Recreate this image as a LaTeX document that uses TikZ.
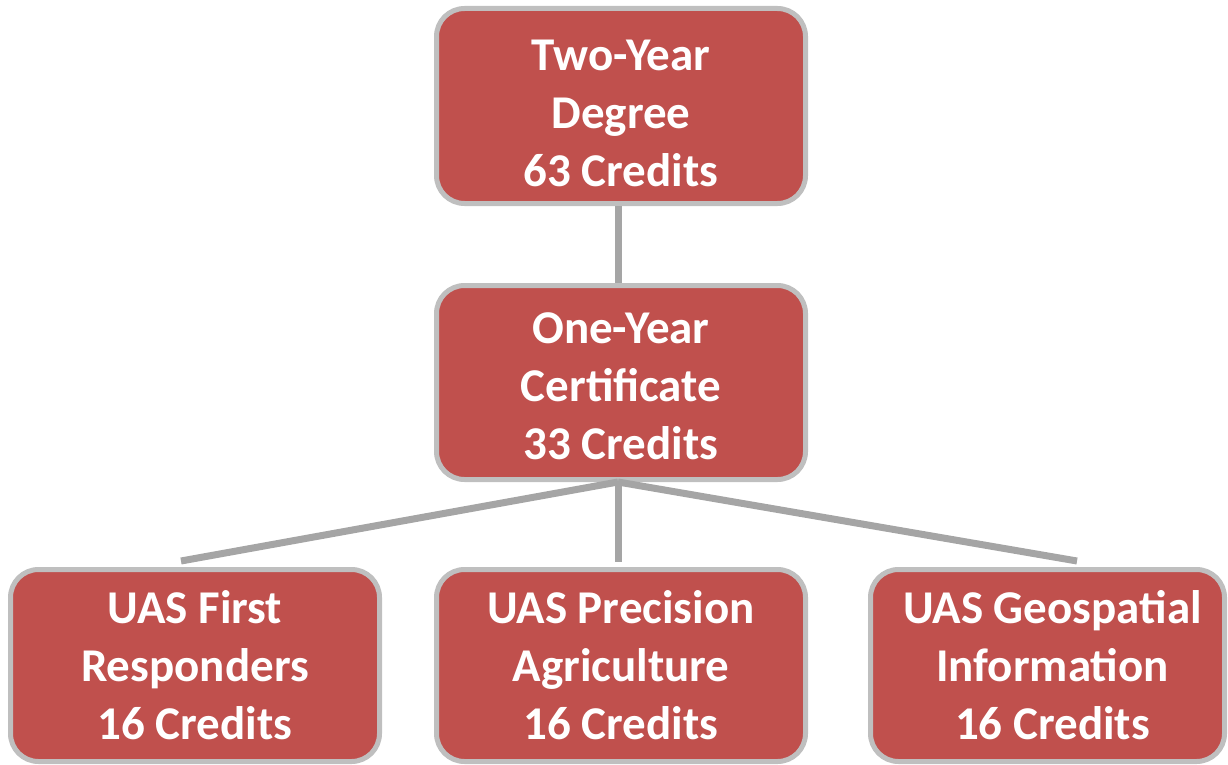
\documentclass[tikz,border=0pt]{standalone}
\usepackage{fontspec}
\setmainfont{Carlito}
\definecolor{boxfill}{HTML}{C0504D}
\definecolor{boxline}{HTML}{BFBFBF}
\definecolor{connline}{HTML}{A5A5A5}
\tikzset{
  credbox/.style={draw=boxline, line width=5pt, fill=boxfill, rounded corners=28pt,
    text=white, align=center, inner sep=0pt, minimum width=369pt, minimum height=194pt,
    font=\fontsize{47}{58}\selectfont\bfseries},
  conn/.style={draw=connline, line width=7pt}
}
\begin{document}
\begin{tikzpicture}[x=1pt,y=-1pt]
\useasboundingbox (0,0) rectangle (1228,765);
\node[credbox, minimum height=195pt] (top) at (621,106) {\rule{0pt}{46pt}Two-Year\\Degree\\63 Credits};
\node[credbox] (mid) at (621,382.5) {\rule{0pt}{38pt}One-Year\\Certificate\\33 Credits};
\node[credbox, minimum height=192pt] (bl) at (195,665.5) {UAS First\\Responders\\16 Credits};
\node[credbox, minimum height=192pt] (bm) at (621,665.5) {UAS Precision\\Agriculture\\16 Credits};
\node[credbox, minimum height=192pt, minimum width=354pt] (br) at (1047.5,665.5) {\hspace*{10pt}UAS Geospatial\\\hspace*{10pt}Information\\\hspace*{10pt}16 Credits};
\coordinate (lend) at (181,561);
\coordinate (mend) at (618,562);
\coordinate (rend) at (1077,561);
\draw[conn] ([xshift=-3pt]top.south) -- ([xshift=-3pt]mid.north);
\draw[conn] ([xshift=-3pt]mid.south) -- (lend);
\draw[conn] ([xshift=-3pt]mid.south) -- (mend);
\draw[conn] ([xshift=-3pt]mid.south) -- (rend);
\end{tikzpicture}
\end{document}
